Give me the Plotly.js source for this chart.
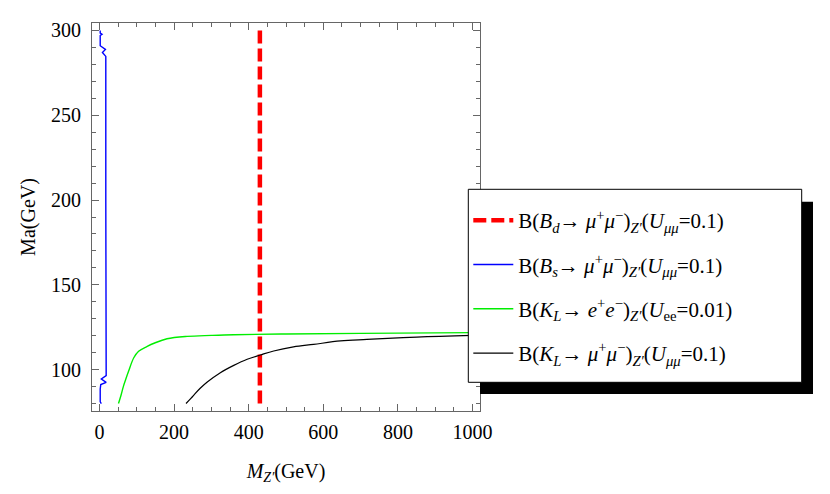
<!DOCTYPE html>
<html>
<head>
<meta charset="utf-8">
<script src="https://cdn.plot.ly/plotly-3.0.1.min.js"></script>
<style>html,body{margin:0;padding:0;background:#fff;}#chart{width:830px;height:494px;}</style>
</head>
<body>
<div id="chart"></div>
<script>
// Bd -> mu mu (vertical dashed line)
const bdX = [430, 430];
const bdY = [80, 300];
// Bs -> mu mu (blue)
const bsX = [2, 2, 7, 2, 2, 16, 8, 17, 17, 18, 5, 18, 3.5, 2, 2, 5];
const bsY = [300, 298.5, 297.8, 297, 291, 288.8, 287, 284.7, 200, 96.5, 94.5, 92.5, 91.2, 88.6, 81, 80];
// KL -> e e (green)
const keeX = [51, 58, 64, 70, 78, 92, 105, 128, 148, 181, 235, 300, 360, 500, 700, 1000];
const keeY = [80, 85, 90, 94, 99, 107, 110.8, 113.7, 115.7, 118.2, 119.6, 120.2, 120.6, 121, 121.4, 121.8];
// KL -> mu mu (black)
const kmmX = [232, 245, 253, 270, 289, 324, 360, 396, 431, 467, 520, 574, 646, 717, 851, 1000];
const kmmY = [80, 83, 85, 89, 92.7, 98.2, 102.5, 106.1, 108.6, 111, 113.4, 114.9, 116.9, 117.8, 119.2, 120.2];

const names = [
  "B(<i>B</i><sub><i>d</i></sub>→ <i>μ</i><sup>+</sup><i>μ</i><sup>−</sup>)<sub><i>Z′</i></sub>(<i>U</i><sub><i>μμ</i></sub>=0.1)",
  "B(<i>B</i><sub><i>s</i></sub>→ <i>μ</i><sup>+</sup><i>μ</i><sup>−</sup>)<sub><i>Z′</i></sub>(<i>U</i><sub><i>μμ</i></sub>=0.1)",
  "B(<i>K</i><sub><i>L</i></sub>→ <i>e</i><sup>+</sup><i>e</i><sup>−</sup>)<sub><i>Z′</i></sub>(<i>U</i><sub>ee</sub>=0.01)",
  "B(<i>K</i><sub><i>L</i></sub>→ <i>μ</i><sup>+</sup><i>μ</i><sup>−</sup>)<sub><i>Z′</i></sub>(<i>U</i><sub><i>μμ</i></sub>=0.1)"
];
const xTitle = "<i>M</i><sub><i>Z′</i></sub>(GeV)";
const yTitle = "Ma(GeV)";

const FONT = "Liberation Serif, Times New Roman, serif";

const traces = [
  {x: bdX, y: bdY, mode: 'lines', name: names[0], legendgroup: 'a',
   line: {color: '#ff0000', width: 4.5, dash: '13px,5px'}},
  {x: bsX, y: bsY, mode: 'lines', name: names[1], legendgroup: 'b',
   line: {color: '#0000ff', width: 1.4}},
  {x: keeX, y: keeY, mode: 'lines', name: names[2], legendgroup: 'c',
   line: {color: '#00ee00', width: 1.4, shape: 'spline'}},
  {x: kmmX, y: kmmY, mode: 'lines', name: names[3], legendgroup: 'd',
   line: {color: '#000000', width: 1.2, shape: 'spline'}}
];

const L = 92, R = 350, T = 23, B = 83;
const W = 830, H = 494;
const pw = W - L - R, ph = H - T - B;
const px2x = px => (px - L) / pw;
const py2y = py => (H - B - py) / ph;

const axisCommon = {
  showline: true, mirror: 'ticks', linecolor: '#666', linewidth: 1,
  ticks: 'inside', ticklen: 7, tickcolor: '#666', tickwidth: 1,
  showgrid: false, zeroline: false,
  tickfont: {family: FONT, size: 20, color: '#000'},
};

const layout = {
  width: W, height: H,
  margin: {l: L, r: R, t: T, b: B},
  paper_bgcolor: '#fff', plot_bgcolor: '#fff',
  font: {family: FONT, size: 20, color: '#000'},
  xaxis: Object.assign({}, axisCommon, {
    range: [-20, 1020], dtick: 200, tick0: 0,
    minor: {dtick: 50, ticklen: 4, ticks: 'inside', tickcolor: '#666'},
    ticklabelstandoff: 3,
    title: {text: xTitle, font: {family: FONT, size: 20}, standoff: 21}
  }),
  yaxis: Object.assign({}, axisCommon, {
    range: [75.6, 304.4], dtick: 50, tick0: 0,
    minor: {dtick: 10, ticklen: 4, ticks: 'inside', tickcolor: '#666'},
    ticklabelstandoff: 6,
    title: {text: yTitle, font: {family: FONT, size: 20}, standoff: 10}
  }),
  showlegend: true,
  legend: {
    x: px2x(468.3), y: py2y(200),
    xanchor: 'left', yanchor: 'top',
    bgcolor: 'rgba(0,0,0,0)', borderwidth: 0,
    font: {family: FONT, size: 21, color: '#000'},
    traceorder: 'grouped', tracegroupgap: 14, itemwidth: 40
  },
  shapes: [
    {type: 'rect', xref: 'paper', yref: 'paper', layer: 'above',
     x0: px2x(480), x1: px2x(813), y0: py2y(201.7), y1: py2y(394),
     fillcolor: '#000', line: {width: 0}},
    {type: 'rect', xref: 'paper', yref: 'paper', layer: 'above',
     x0: px2x(468.3), x1: px2x(801.7), y0: py2y(189.3), y1: py2y(382.3),
     fillcolor: '#fff', line: {color: '#000', width: 1}}
  ]
};

Plotly.newPlot('chart', traces, layout, {displayModeBar: false, staticPlot: true});
</script>
</body>
</html>
